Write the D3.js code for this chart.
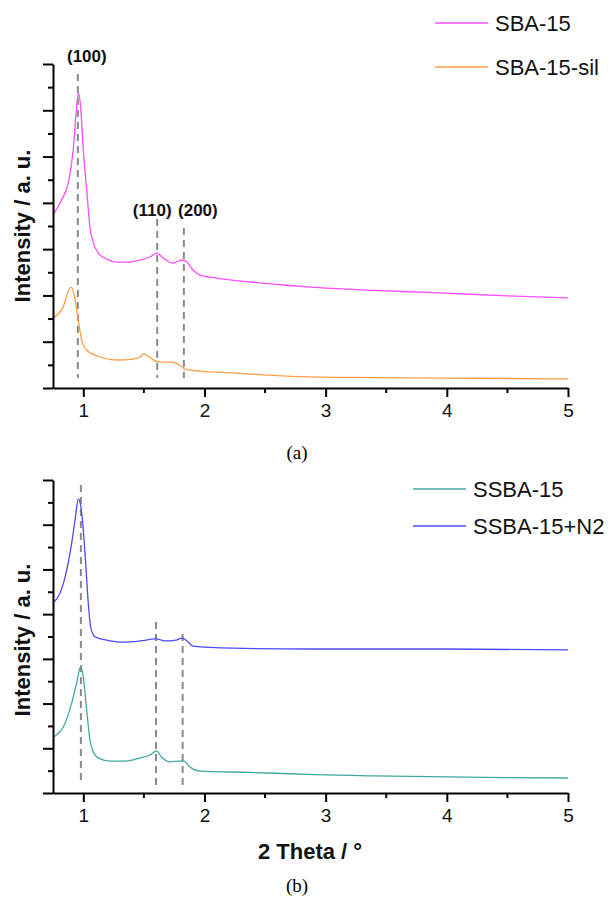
<!DOCTYPE html>
<html>
<head>
<meta charset="utf-8">
<script src="https://cdn.jsdelivr.net/npm/d3@7"></script>
<style>
  body { margin: 0; background: #fff; }
  text { font-family: "Liberation Sans", Arial, sans-serif; }
</style>
</head>
<body>
<div id="chart"></div>
<script>
// ---- data (2 Theta, intensity in a.u.) ----
var sba15 = [[0.75,7.48],[0.82,8.12],[0.876,8.86],[0.917,10.29],[0.945,12.14],[0.96,12.75],[0.978,12.14],
  [1.0,10.29],[1.028,8.56],[1.055,6.96],[1.083,6.27],[1.124,5.83],[1.193,5.57],[1.276,5.44],[1.385,5.44],
  [1.468,5.53],[1.55,5.66],[1.608,5.83],[1.65,5.66],[1.74,5.40],[1.814,5.53],[1.856,5.44],[1.905,5.10],
  [1.963,4.88],[2.10,4.75],[2.375,4.58],[2.65,4.45],[2.87,4.36],[3.4,4.22],[3.94,4.11],[4.5,3.98],[5.0,3.89]];
var sba15sil = [[0.75,3.02],[0.83,3.46],[0.898,4.36],[0.93,3.89],[0.956,3.02],[0.987,2.07],[1.028,1.64],
  [1.138,1.34],[1.278,1.21],[1.41,1.25],[1.468,1.34],[1.493,1.47],[1.534,1.38],[1.59,1.17],[1.633,1.12],
  [1.73,1.12],[1.78,1.04],[1.84,0.82],[1.963,0.73],[2.235,0.65],[2.516,0.56],[2.87,0.48],[3.4,0.45],
  [3.94,0.43],[4.5,0.41],[5.0,0.39]];
var ssba15 = [[0.75,2.50],[0.835,2.95],[0.904,4.02],[0.945,4.92],[0.978,5.64],[1.0,5.19],[1.028,3.71],
  [1.055,2.37],[1.083,1.83],[1.121,1.57],[1.22,1.43],[1.344,1.43],[1.468,1.57],[1.55,1.70],[1.605,1.88],
  [1.645,1.61],[1.715,1.39],[1.798,1.43],[1.831,1.43],[1.88,1.16],[1.963,0.98],[2.375,0.92],[2.705,0.86],
  [2.87,0.83],[3.4,0.77],[4.0,0.72],[4.5,0.69],[5.0,0.67]];
var ssba15n2 = [[0.75,8.50],[0.808,8.94],[0.863,9.97],[0.904,11.18],[0.932,12.21],[0.959,13.15],[0.987,12.52],
  [1.014,10.73],[1.041,8.50],[1.061,7.42],[1.097,6.98],[1.193,6.84],[1.328,6.75],[1.468,6.80],[1.60,6.89],
  [1.674,6.80],[1.765,6.84],[1.814,6.93],[1.856,6.80],[1.905,6.57],[2.235,6.48],[2.87,6.44],[4.0,6.44],[5.0,6.40]];

var xTicks = [1, 2, 3, 4, 5];
var xMinor = [1.5, 2.5, 3.5, 4.5];
var peaksA = [{label: "(100)", pos: 0.955}, {label: "(110)", pos: 1.61}, {label: "(200)", pos: 1.83}];
var peaksB = [0.98, 1.60, 1.82];

var seriesA = [{name: "SBA-15", values: sba15, color: "#ff4dff"},
               {name: "SBA-15-sil", values: sba15sil, color: "#ff9d45"}];
var seriesB = [{name: "SSBA-15", values: ssba15, color: "#3fa8a2"},
               {name: "SSBA-15+N2", values: ssba15n2, color: "#4a4aff"}];

var svg = d3.select("#chart").append("svg")
  .attr("width", 616)
  .attr("height", 899);

function panel(opt) {
  var x = d3.scaleLinear().domain([0.75, 5]).range([53, 568]);
  var y = d3.scaleLinear().domain([0, 14]).range([opt.bottom, opt.top]);
  var g = svg.append("g");

  // dashed reflection lines
  g.selectAll("line.ref")
    .data(opt.refs)
    .enter().append("line")
    .attr("class", "ref")
    .attr("x1", d => x(d.pos)).attr("x2", d => x(d.pos))
    .attr("y1", d => d.y0).attr("y2", opt.bottom - opt.refEnd)
    .attr("stroke", "#8a8a8a")
    .attr("stroke-width", 2)
    .attr("stroke-dasharray", "7,5");

  // curves
  var line = d3.line()
    .x(d => x(d[0]))
    .y(d => y(d[1]))
    .curve(d3.curveMonotoneX);

  g.selectAll("path.curve")
    .data(opt.series)
    .enter().append("path")
    .attr("class", "curve")
    .attr("d", d => line(d.values))
    .attr("fill", "none")
    .attr("stroke", d => d.color)
    .attr("stroke-width", 1.3);

  // y axis: no labels, alternating long/short ticks
  var yAxis = g.append("g")
    .attr("transform", "translate(53,0)")
    .call(d3.axisLeft(y).tickValues(d3.range(0, 15)).tickSize(0).tickFormat(""));
  yAxis.select(".domain").attr("stroke-width", 2);
  yAxis.selectAll(".tick line")
    .attr("x2", d => d % 2 === 0 ? -10 : -5)
    .attr("stroke-width", 2);

  // x axis
  var xAxis = g.append("g")
    .attr("transform", "translate(0," + opt.bottom + ")")
    .call(d3.axisBottom(x).tickValues(xTicks).tickFormat(d3.format("d"))
      .tickSize(9).tickSizeOuter(0).tickPadding(7));
  xAxis.select(".domain").attr("stroke-width", 2);
  xAxis.selectAll(".tick line").attr("stroke-width", 2);
  xAxis.selectAll(".tick text")
    .attr("font-size", 19)
    .attr("fill", "#111")
    .style("font-family", "Liberation Sans, Arial, sans-serif");

  g.selectAll("line.minor")
    .data(xMinor)
    .enter().append("line")
    .attr("class", "minor")
    .attr("x1", d => x(d)).attr("x2", d => x(d))
    .attr("y1", opt.bottom).attr("y2", opt.bottom + 5)
    .attr("stroke", "#000").attr("stroke-width", 2);

  // y axis title
  g.append("text")
    .attr("transform", "translate(30," + opt.titleY + ") rotate(-90)")
    .attr("text-anchor", "middle")
    .attr("font-size", 22)
    .attr("font-weight", "bold")
    .attr("fill", "#111")
    .text("Intensity / a. u.");

  // legend
  var leg = g.selectAll("g.legend")
    .data(opt.series)
    .enter().append("g")
    .attr("class", "legend")
    .attr("transform", (d, i) => "translate(" + opt.legX + "," + (opt.legY + i * opt.legStep) + ")");
  leg.append("line")
    .attr("x1", 0).attr("x2", 53)
    .attr("stroke", d => d.color)
    .attr("stroke-opacity", 0.75)
    .attr("stroke-width", 2);
  leg.append("text")
    .attr("x", 60).attr("y", 8)
    .attr("font-size", 22)
    .attr("fill", "#111")
    .text(d => d.name);

  // caption
  g.append("text")
    .attr("x", 297).attr("y", opt.capY)
    .attr("text-anchor", "middle")
    .attr("font-size", 19)
    .style("font-family", "Liberation Serif, Times New Roman, serif")
    .text(opt.caption);

  return {x: x, y: y, g: g};
}

// panel (a)
var pa = panel({
  top: 64, bottom: 388, series: seriesA,
  refs: [{pos: peaksA[0].pos, y0: 74}, {pos: peaksA[1].pos, y0: 219}, {pos: peaksA[2].pos, y0: 228}],
  refEnd: 10, titleY: 226, legX: 435, legY: 23, legStep: 44, capY: 459, caption: "(a)"
});

var labelDx = [9, -5, 14];
var labelY = [62, 216, 216];
pa.g.selectAll("text.peak")
  .data(peaksA)
  .enter().append("text")
  .attr("class", "peak")
  .attr("x", (d, i) => pa.x(d.pos) + labelDx[i])
  .attr("y", (d, i) => labelY[i])
  .attr("text-anchor", "middle")
  .attr("font-size", 17)
  .attr("font-weight", "bold")
  .attr("fill", "#111")
  .text(d => d.label);

// panel (b)
var pb = panel({
  top: 480, bottom: 793, series: seriesB,
  refs: [{pos: peaksB[0], y0: 485}, {pos: peaksB[1], y0: 622}, {pos: peaksB[2], y0: 634}],
  refEnd: 8, titleY: 640, legX: 413, legY: 489, legStep: 37, capY: 892, caption: "(b)"
});

svg.append("text")
  .attr("x", 310).attr("y", 859)
  .attr("text-anchor", "middle")
  .attr("font-size", 22)
  .attr("font-weight", "bold")
  .attr("fill", "#111")
  .text("2 Theta / \u00b0");
</script>
</body>
</html>
